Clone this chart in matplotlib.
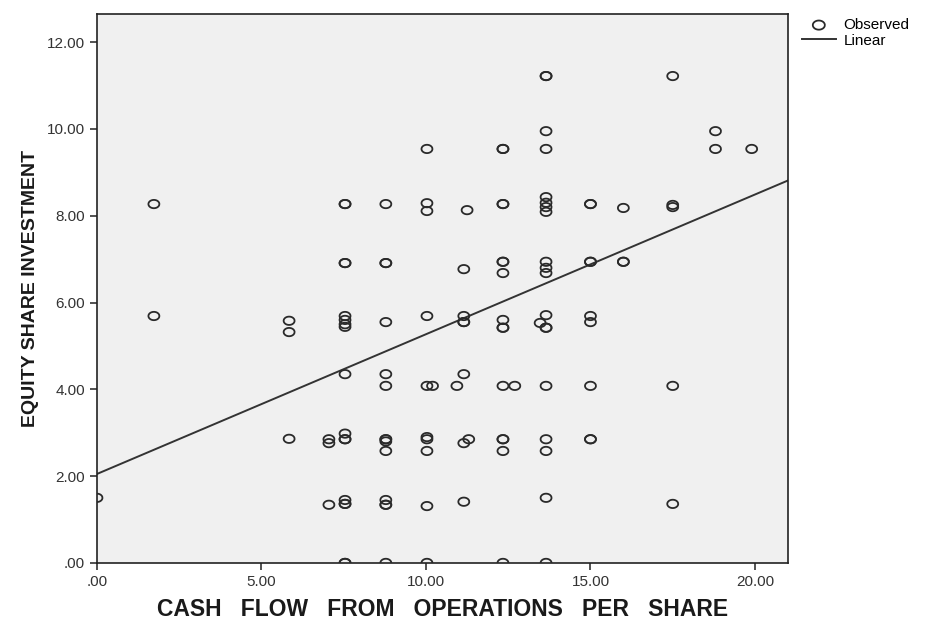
import numpy as np
import matplotlib
matplotlib.use("Agg")
import matplotlib.pyplot as plt
from matplotlib.ticker import FuncFormatter

# values, grouped by x column
cash_flow = (
    [0.0]
    + [1.73] * 2
    + [5.84] * 3
    + [7.05] * 3
    + [7.54] * 17
    + [8.78] * 14
    + [10.03] * 10
    + [10.2, 10.94]
    + [11.25] + [11.15] * 7
    + [11.3]
    + [12.34] * 15
    + [12.7]
    + [13.65] * 19
    + [13.47]
    + [15.0] * 9
    + [16.0] * 3
    + [17.5] * 5
    + [18.8] * 2
    + [19.9]
)
equity_investment = (
    [1.50]
    + [8.27, 5.69]
    + [5.58, 5.32, 2.86]
    + [2.85, 2.76, 1.34]
    + [8.27, 8.27, 6.91, 6.91, 5.69, 5.60, 5.50, 5.44, 4.35, 2.98, 2.85, 2.85,
       1.45, 1.36, 1.36, 0.0, 0.0]
    + [8.27, 6.91, 6.91, 5.55, 4.35, 4.08, 2.85, 2.85, 2.80, 2.58, 1.45, 1.34,
       1.34, 0.0]
    + [9.54, 8.29, 8.11, 5.69, 4.08, 2.90, 2.85, 2.58, 1.31, 0.0]
    + [4.08, 4.08]
    + [8.13] + [6.77, 5.69, 5.55, 5.55, 4.35, 2.76, 1.41]
    + [2.85]
    + [9.54, 9.54, 8.27, 8.27, 6.94, 6.94, 6.68, 5.60, 5.42, 5.42, 4.08, 2.85,
       2.85, 2.58, 0.0]
    + [4.08]
    + [11.22, 11.22, 9.95, 9.54, 8.43, 8.30, 8.20, 8.09, 6.94, 6.80, 6.68, 5.71,
       5.42, 5.42, 4.08, 2.85, 2.58, 1.50, 0.0]
    + [5.53]
    + [8.27, 8.27, 6.94, 6.94, 5.69, 5.55, 4.08, 2.85, 2.85]
    + [8.18, 6.94, 6.94]
    + [11.22, 8.25, 8.20, 4.08, 1.36]
    + [9.95, 9.54]
    + [9.54]
)

# linear fit as drawn in the reference (the plotted points overlap, so a
# refit on the visible points does not reproduce it)
fit_intercept = 2.05
fit_slope = 0.322

x_ticks = [0, 5, 10, 15, 20]
y_ticks = [0, 2, 4, 6, 8, 10, 12]

x = np.array(cash_flow)
y = np.array(equity_investment)

plt.rcParams['font.family'] = ['Liberation Sans', 'DejaVu Sans']

fig = plt.figure(figsize=(9.28, 6.22), dpi=100)
ax = fig.add_axes([0.1045, 0.095, 0.7445, 0.8825])
ax.set_facecolor('#f0f0f0')

# slightly flattened circle, like the stretched original
t = np.linspace(0, 2 * np.pi, 60)
ellipse = np.column_stack([np.cos(t), 0.76 * np.sin(t)])

ax.scatter(x, y, marker=ellipse, s=62, facecolors='none',
           edgecolors='#2a2a2a', linewidths=1.3, label='Observed',
           clip_on=True, zorder=3)

xs = np.array([0, 21])
ax.plot(xs, fit_intercept + fit_slope * xs, color='#333333', linewidth=1.4,
        label='Linear', zorder=2)

ax.set_xlim(0, 21)
ax.set_ylim(0, 12.65)
ax.set_xticks(x_ticks)
ax.set_yticks(y_ticks)

fmt = FuncFormatter(lambda v, pos: f"{v:.2f}".lstrip('0') if v < 1 else f"{v:.2f}")
ax.xaxis.set_major_formatter(fmt)
ax.yaxis.set_major_formatter(fmt)
ax.tick_params(direction='out', length=5, width=1.1, labelsize=11,
               labelcolor='#333333', color='#222222')

for sp in ax.spines.values():
    sp.set_color('#222222')
    sp.set_linewidth(1.2)

ax.set_xlabel("CASH   FLOW   FROM   OPERATIONS   PER   SHARE", fontsize=16.5,
              fontweight='bold', color='#1a1a1a', labelpad=7)
ax.set_ylabel("EQUITY SHARE INVESTMENT", fontsize=14, fontweight='bold',
              color='#1a1a1a', labelpad=6)

ax.legend(loc='upper left', bbox_to_anchor=(1.005, 1.012), frameon=False,
          fontsize=11, handlelength=2.2, handletextpad=0.5,
          borderpad=0.2, labelspacing=0.1, markerscale=1.1)

fig.savefig("out.png", dpi=100)
